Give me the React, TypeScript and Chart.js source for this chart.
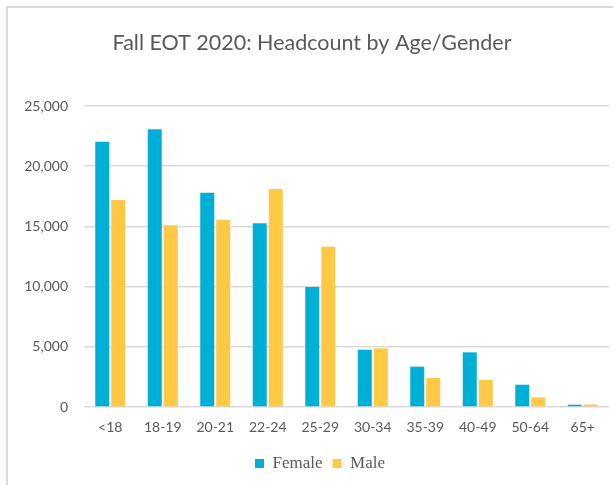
import React, { useEffect, useRef } from "react";
import { Chart, registerables } from "chart.js";

Chart.register(...registerables);

const categories = ["<18", "18-19", "20-21", "22-24", "25-29", "30-34", "35-39", "40-49", "50-64", "65+"];
const femaleValues = [22030, 23070, 17800, 15260, 9960, 4760, 3350, 4540, 1850, 190];
const maleValues = [17190, 15090, 15530, 18110, 13320, 4870, 2410, 2240, 800, 200];
const yTicks = [0, 5000, 10000, 15000, 20000, 25000];
const titleText = "Fall EOT 2020: Headcount by Age/Gender";

const titlePlugin = {
  id: "customTitle",
  afterDraw(chart: any) {
    const ctx = chart.ctx;
    ctx.save();
    ctx.font = "21.5px Lato";
    ctx.fillStyle = "#595959";
    ctx.textAlign = "center";
    ctx.textBaseline = "alphabetic";
    ctx.fillText(titleText, 312, 50);
    ctx.restore();
  },
};

export default function App() {
  const ref = useRef<HTMLCanvasElement | null>(null);
  useEffect(() => {
    if (!ref.current) return;
    const chart = new Chart(ref.current, {
      type: "bar",
      data: {
        labels: categories,
        datasets: [
          {
            label: "Female",
            data: femaleValues,
            backgroundColor: "#00AFD6",
            categoryPercentage: 0.61,
            barPercentage: 0.875,
          },
          {
            label: "Male",
            data: maleValues,
            backgroundColor: "#FFC845",
            categoryPercentage: 0.61,
            barPercentage: 0.875,
          },
        ],
      },
      options: {
        responsive: false,
        animation: false,
        layout: { padding: { top: 106, left: 0, right: 0, bottom: 3 } },
        plugins: {
          title: { display: false },
          tooltip: { enabled: false },
          legend: {
            position: "bottom",
            labels: {
              font: { family: "'Liberation Serif', serif", size: 17 },
              color: "#595959",
              boxWidth: 9,
              boxHeight: 9,
              padding: 10,
            },
          },
        },
        scales: {
          x: {
            grid: { display: false, drawTicks: false },
            border: { display: false },
            ticks: {
              font: { family: "Lato", size: 14 },
              color: "#595959",
              padding: 12,
              maxRotation: 0,
              autoSkip: false,
            },
            afterFit: (s: any) => {
              s.height = 38;
            },
          },
          y: {
            min: 0,
            max: 25000,
            grid: { color: "#d9d9d9", lineWidth: 1.5, drawTicks: false },
            border: { display: false },
            afterBuildTicks: (s: any) => {
              s.ticks = yTicks.map((v) => ({ value: v }));
            },
            ticks: {
              font: { family: "Lato", size: 14 },
              color: "#595959",
              padding: 16,
              callback: (v: any) => Number(v).toLocaleString("en-US"),
            },
            afterFit: (s: any) => {
              s.width = 84;
            },
          },
          yR: {
            type: "linear",
            position: "right",
            display: true,
            grid: { display: false, drawTicks: false },
            border: { display: false },
            ticks: { display: false },
            afterFit: (s: any) => {
              s.width = 31;
            },
          },
        },
      },
      plugins: [titlePlugin],
    });
    return () => chart.destroy();
  }, []);

  return (
    <div
      style={{
        position: "fixed",
        left: 0,
        top: 0,
        width: 613,
        height: 485,
        overflow: "hidden",
        background: "#ffffff",
      }}
    >
      <div
        style={{
          position: "absolute",
          left: 6,
          top: 6,
          width: 700,
          height: 600,
          borderLeft: "2px solid #d9d9d9",
          borderTop: "2px solid #d9d9d9",
        }}
      />
      <div style={{ position: "absolute", left: 0, top: 0, width: 640, height: 485 }}>
        <canvas ref={ref} width={640} height={485} />
      </div>
    </div>
  );
}
